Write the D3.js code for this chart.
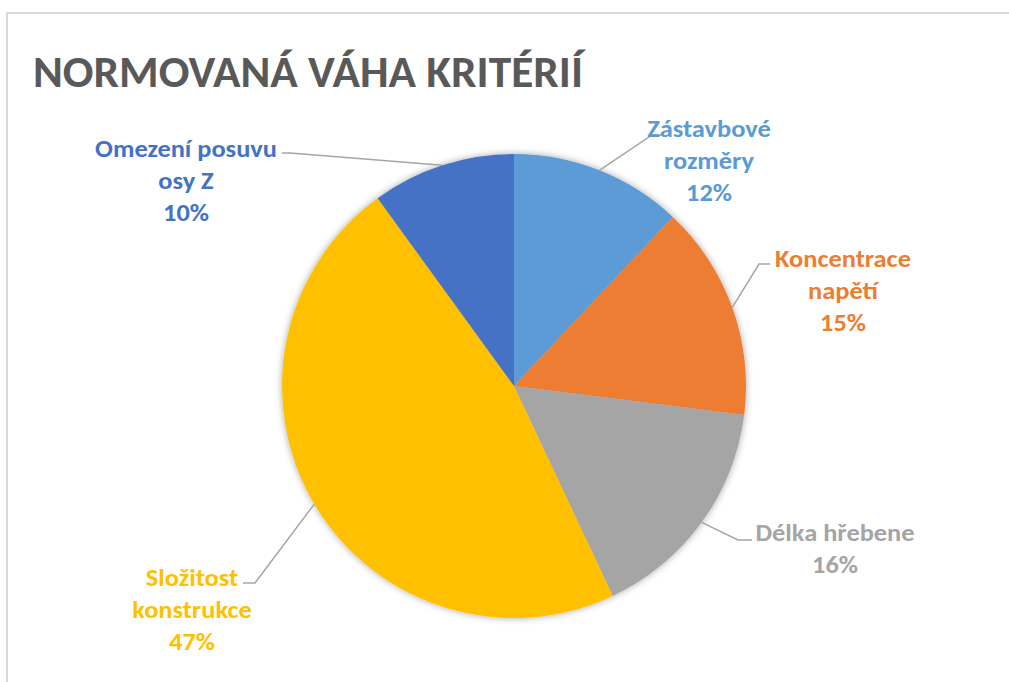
<!DOCTYPE html>
<html>
<head>
<meta charset="utf-8">
<script src="https://cdn.jsdelivr.net/npm/d3@7"></script>
<style>
  html, body { margin: 0; padding: 0; background: #ffffff; }
  svg { display: block; }
</style>
</head>
<body>
<svg id="chart" width="1009" height="682"></svg>
<script>
// Criteria and their normalised weights (%), clockwise from 12 o'clock
const categories = ["Zástavbové rozměry", "Koncentrace napětí", "Délka hřebene", "Složitost konstrukce", "Omezení posuvu osy Z"];
const weights = [12, 15, 16, 47, 10];
const sliceColors = ["#5B9BD5", "#ED7D31", "#A5A5A5", "#FFC000", "#4472C4"];
const titleText = "NORMOVANÁ VÁHA KRITÉRIÍ";

// How each category name wraps in its data label
const labelLines = [["Zástavbové", "rozměry"], ["Koncentrace", "napětí"], ["Délka hřebene"], ["Složitost", "konstrukce"], ["Omezení posuvu", "osy Z"]];

// Label placement: text centre x, first line centre y, leader elbow and leader end
const labelLayout = [
  { cx: 709, y: 128, elbow: [652, 135], end: [662, 135] },
  { cx: 843, y: 258, elbow: [759, 264], end: [770, 264] },
  { cx: 835, y: 532, elbow: [738, 540], end: [752, 540] },
  { cx: 192, y: 577, elbow: [255, 583], end: [243, 583] },
  { cx: 186, y: 148, elbow: [290, 153], end: [282, 153] }
];

const svg = d3.select("#chart");
const W = 1009, H = 682;
const cx = 514, cy = 386, radius = 232;
const lineGap = 32;
const labelFont = "Carlito, Lato, 'Open Sans', sans-serif";

// chart area frame
svg.append("rect")
  .attr("x", 7).attr("y", 13)
  .attr("width", W + 20).attr("height", H + 20)
  .attr("fill", "#ffffff")
  .attr("stroke", "#d9d9d9")
  .attr("stroke-width", 2);

// soft shadow under the pie
const defs = svg.append("defs");
const f = defs.append("filter").attr("id", "pieShadow")
  .attr("x", "-10%").attr("y", "-10%").attr("width", "120%").attr("height", "120%");
f.append("feDropShadow")
  .attr("dx", 0).attr("dy", 0)
  .attr("stdDeviation", 3.5)
  .attr("flood-color", "#000000")
  .attr("flood-opacity", 0.35);

// title
const title = svg.append("text")
  .attr("x", 33).attr("y", 87)
  .attr("font-family", labelFont)
  .attr("font-weight", 700)
  .attr("font-size", 44)
  .attr("fill", "#595959")
  .text(titleText);
title.attr("textLength", 550).attr("lengthAdjust", "spacingAndGlyphs");

// pie
const data = categories.map((c, i) => ({ name: c, value: weights[i], color: sliceColors[i], idx: i }));
const pie = d3.pie().value(d => d.value).sort(null);
const arcs = pie(data);
const arc = d3.arc().innerRadius(0).outerRadius(radius);
const edgeArc = d3.arc().innerRadius(radius).outerRadius(radius);

const g = svg.append("g").attr("transform", `translate(${cx},${cy})`);
g.append("g").attr("filter", "url(#pieShadow)")
  .selectAll("path")
  .data(arcs)
  .join("path")
  .attr("d", arc)
  .attr("fill", d => d.data.color);

// leader lines
const fmt = d => `${Math.round(d.data.value)}%`;
svg.append("g").selectAll("polyline")
  .data(arcs)
  .join("polyline")
  .attr("points", d => {
    const L = labelLayout[d.data.idx];
    const c = edgeArc.centroid(d);
    return [[cx + c[0], cy + c[1]], L.elbow, L.end].map(p => p.join(",")).join(" ");
  })
  .attr("fill", "none")
  .attr("stroke", "#a6a6a6")
  .attr("stroke-width", 1.5);

// data labels
const labelG = svg.append("g");
const groups = labelG.selectAll("g")
  .data(arcs)
  .join("g");

groups.each(function (d) {
  const L = labelLayout[d.data.idx];
  const lines = labelLines[d.data.idx].concat([fmt(d)]);
  const t = d3.select(this).append("text")
    .attr("font-family", labelFont)
    .attr("font-weight", 700)
    .attr("font-size", 25)
    .attr("fill", d.data.color)
    .attr("text-anchor", "middle");
  lines.forEach((s, i) => {
    t.append("tspan").attr("x", 0).attr("y", L.y + 9 + i * lineGap).text(s);
  });
});

// condense label text horizontally to the narrow face used for labels
let ref = null;
groups.each(function (d) { if (d.data.idx === 4) ref = d3.select(this).select("tspan").node(); });
const k = ref ? 182 / ref.getComputedTextLength() : 1;
groups.attr("transform", d => `translate(${labelLayout[d.data.idx].cx},0) scale(${k},1)`);
</script>
</body>
</html>
